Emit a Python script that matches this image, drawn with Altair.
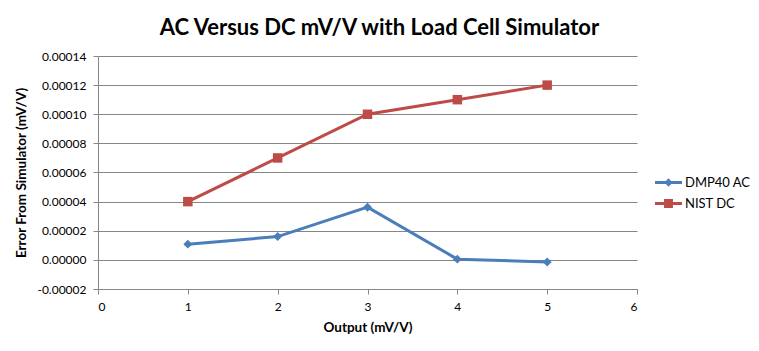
import altair as alt
import pandas as pd

outputs = [1, 2, 3, 4, 5]
dmp40_ac = [0.0000108, 0.0000160, 0.0000362, 0.0000005, -0.0000014]
nist_dc = [0.00004, 0.00007, 0.00010, 0.00011, 0.00012]
series_names = ["DMP40 AC", "NIST DC"]
colors = ["#4A7EBB", "#BE4B48"]
y_ticks = [-0.00002, 0, 0.00002, 0.00004, 0.00006, 0.00008, 0.00010, 0.00012, 0.00014]
x_ticks = [0, 1, 2, 3, 4, 5, 6]

rows = []
for x, v in zip(outputs, dmp40_ac):
    rows.append({"x": x, "y": v, "series": series_names[0]})
for x, v in zip(outputs, nist_dc):
    rows.append({"x": x, "y": v, "series": series_names[1]})
df = pd.DataFrame(rows)

FONT = "Lato"
AX = dict(domainColor="#868686", tickColor="#868686", gridColor="#868686", gridOpacity=1,
          labelFont=FONT, labelFontSize=12, labelColor="#000000",
          titleFont=FONT, titleFontSize=13.5, titleFontWeight="bold", titleColor="#000000",
          tickSize=5, labelOverlap=False, tickCount=20)

xenc = alt.X("x:Q", scale=alt.Scale(domain=[0, 6], nice=False),
             axis=alt.Axis(values=x_ticks, title="Output (mV/V)", grid=False,
                           format="d", titlePadding=8, labelPadding=7, **AX))
yenc = alt.Y("y:Q", scale=alt.Scale(domain=[-0.00002, 0.00014], nice=False, zero=False),
             axis=alt.Axis(values=y_ticks, title="Error From Simulator (mV/V)", grid=True,
                           labelExpr="replace(format(datum.value, '.5f'), '\u2212', '-')",
                           titlePadding=8, labelPadding=7, **AX))

cscale = alt.Scale(domain=series_names, range=colors)

lines = alt.Chart(df).mark_line(strokeWidth=3).encode(
    x=xenc, y=yenc, color=alt.Color("series:N", scale=cscale))

markers_a = alt.Chart(df).transform_filter(alt.datum.series == series_names[0]).mark_point(
    shape="diamond", filled=True, size=80, opacity=1).encode(
    x=xenc, y=yenc, color=alt.Color("series:N", scale=cscale))
markers_b = alt.Chart(df).transform_filter(alt.datum.series == series_names[1]).mark_point(
    shape="square", filled=True, size=90, opacity=1).encode(
    x=xenc, y=yenc, color=alt.Color("series:N", scale=cscale))

leg_paths = [
    "M-1,-0.11L1,-0.11L1,0.11L-1,0.11Z M0,-0.32L0.3,0L0,0.32L-0.3,0Z",
    "M-1,-0.11L1,-0.11L1,0.11L-1,0.11Z M-0.33,-0.33L0.33,-0.33L0.33,0.33L-0.33,0.33Z",
]
leg = alt.Legend(title=None, orient="none", legendX=557, legendY=113,
                 symbolSize=729, symbolStrokeWidth=0, symbolOpacity=1, rowPadding=0,
                 padding=0, labelOffset=3, labelFontSize=13,
                 labelFont=FONT, labelColor="#000000")
legend_layer = alt.Chart(df).mark_point(filled=True, opacity=0).encode(
    x=xenc, y=yenc,
    color=alt.Color("series:N", scale=cscale, legend=leg),
    shape=alt.Shape("series:N", scale=alt.Scale(domain=series_names, range=leg_paths),
                    legend=leg),
)

chart = alt.layer(lines, markers_a, markers_b, legend_layer).properties(
    width=539, height=233,
    background="#ffffff",
    title=alt.TitleParams("AC Versus DC mV/V with Load Cell Simulator", fontSize=22,
                          font=FONT, fontWeight="bold", color="#000000", anchor="middle",
                          offset=10, dx=12),
    autosize=alt.AutoSizeParams(type="none"),
    padding={"left": 98, "top": 56, "right": 122, "bottom": 62},
).configure_view(stroke=None)

chart.save("out.html", embed_options={"renderer": "svg", "actions": False})
